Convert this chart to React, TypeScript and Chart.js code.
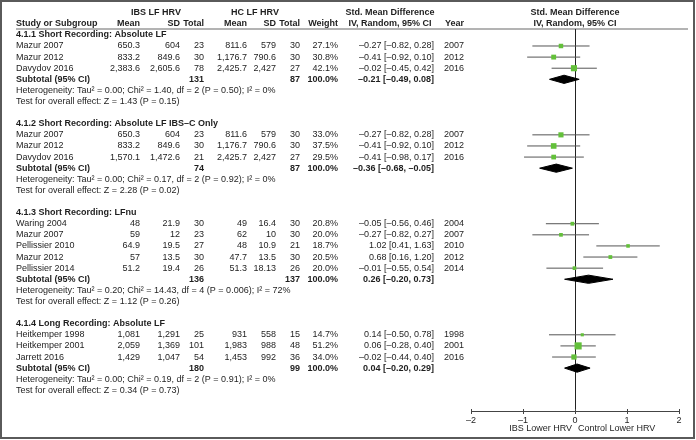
import React, { useEffect, useRef } from "react";
import { Chart, registerables } from "chart.js";

Chart.register(...registerables);

// ---------- DATA ----------
const studyNames = [
  "Mazur 2007", "Mazur 2012", "Davydov 2016",
  "Mazur 2007", "Mazur 2012", "Davydov 2016",
  "Waring 2004", "Mazur 2007", "Pellissier 2010", "Mazur 2012", "Pellissier 2014",
  "Heitkemper 1998", "Heitkemper 2001", "Jarrett 2016",
];
const studyGroup = [0, 0, 0, 1, 1, 1, 2, 2, 2, 2, 2, 3, 3, 3];
const ibsMean = [650.3, 833.2, 2383.6, 650.3, 833.2, 1570.1, 48, 59, 64.9, 57, 51.2, 1081, 2059, 1429];
const ibsSD = [604, 849.6, 2605.6, 604, 849.6, 1472.6, 21.9, 12, 19.5, 13.5, 19.4, 1291, 1369, 1047];
const ibsTotal = [23, 30, 78, 23, 30, 21, 30, 23, 27, 30, 26, 25, 101, 54];
const hcMean = [811.6, 1176.7, 2425.7, 811.6, 1176.7, 2425.7, 49, 62, 48, 47.7, 51.3, 931, 1983, 1453];
const hcSD = [579, 790.6, 2427, 579, 790.6, 2427, 16.4, 10, 10.9, 13.5, 18.13, 558, 988, 992];
const hcTotal = [30, 30, 27, 30, 30, 27, 30, 30, 21, 30, 26, 15, 48, 36];
const weights = [27.1, 30.8, 42.1, 33.0, 37.5, 29.5, 20.8, 20.0, 18.7, 20.5, 20.0, 14.7, 51.2, 34.0];
const smd = [-0.27, -0.41, -0.02, -0.27, -0.41, -0.41, -0.05, -0.27, 1.02, 0.68, -0.01, 0.14, 0.06, -0.02];
const ciLow = [-0.82, -0.92, -0.45, -0.82, -0.92, -0.98, -0.56, -0.82, 0.41, 0.16, -0.55, -0.50, -0.28, -0.44];
const ciHigh = [0.28, 0.10, 0.42, 0.28, 0.10, 0.17, 0.46, 0.27, 1.63, 1.20, 0.54, 0.78, 0.40, 0.40];
const years = [2007, 2012, 2016, 2007, 2012, 2016, 2004, 2007, 2010, 2012, 2014, 1998, 2001, 2016];

const groupTitles = [
  "4.1.1 Short Recording: Absolute LF",
  "4.1.2 Short Recording: Absolute LF IBS–C Only",
  "4.1.3 Short Recording: LFnu",
  "4.1.4 Long Recording: Absolute LF",
];
const subIbsTotal = [131, 74, 136, 180];
const subHcTotal = [87, 87, 137, 99];
const subSmd = [-0.21, -0.36, 0.26, 0.04];
const subLow = [-0.49, -0.68, -0.20, -0.20];
const subHigh = [0.08, -0.05, 0.73, 0.29];
const tau2 = [0.0, 0.0, 0.2, 0.0];
const chi2 = [1.4, 0.17, 14.43, 0.19];
const hetDf = [2, 2, 4, 2];
const hetP = ["0.50", "0.92", "0.006", "0.91"];
const i2 = [0, 0, 72, 0];
const zValue = [1.43, 2.28, 1.12, 0.34];
const zP = ["0.15", "0.02", "0.26", "0.73"];

const xTicks = [-2, -1, 0, 1, 2];
const favoursLeft = "IBS Lower HRV";
const favoursRight = "Control Lower HRV";

// ---------- ROW LAYOUT ----------
type Row = { kind: "blank" | "group" | "study" | "subtotal" | "het" | "test"; g: number; i?: number };
const rows: Row[] = [];
groupTitles.forEach((_, g) => {
  if (g > 0) rows.push({ kind: "blank", g });
  rows.push({ kind: "group", g });
  studyNames.forEach((_, i) => {
    if (studyGroup[i] === g) rows.push({ kind: "study", g, i });
  });
  rows.push({ kind: "subtotal", g });
  rows.push({ kind: "het", g });
  rows.push({ kind: "test", g });
});
const rowOfStudy = (i: number) => rows.findIndex((r) => r.kind === "study" && r.i === i);
const rowOfSubtotal = (g: number) => rows.findIndex((r) => r.kind === "subtotal" && r.g === g);

// ---------- STYLE ----------
const FONT = '"Liberation Sans", Arial, sans-serif';
const TEXT = "#1e1e1e";
const GREEN = "#63c03a";
const COL = {
  name: 16, ibsMean: 140, ibsSD: 180, ibsN: 204, hcMean: 247, hcSD: 276, hcN: 300,
  weight: 338, ci: 434, year: 464, ibsHead: 156, hcHead: 255, ciHead: 390,
};

const fmtNum = (v: number) => v.toLocaleString("en-US", { maximumFractionDigits: 2 });
const dash = (s: string) => s.replace(/-/g, "–");
const fmtCI = (e: number, l: number, h: number) =>
  dash(`${e.toFixed(2)} [${l.toFixed(2)}, ${h.toFixed(2)}]`);
const squareSide = (w: number) => 1.5 + 0.11 * w;

const forestPlugin = {
  id: "forestTable",
  beforeDraw(chart: any) {
    const { ctx, chartArea } = chart;
    ctx.save();
    ctx.fillStyle = "#fff";
    ctx.fillRect(0, 0, chart.width, chart.height);
    ctx.strokeStyle = "#5a5a5a";
    ctx.lineWidth = 2;
    ctx.strokeRect(1, 1, chart.width - 3, chart.height - 3);
    ctx.strokeStyle = "#9a9a9a";
    ctx.lineWidth = 1.5;
    ctx.beginPath();
    ctx.moveTo(COL.name, chartArea.top);
    ctx.lineTo(chart.width - 8, chartArea.top);
    ctx.stroke();
    ctx.restore();
  },
  afterDraw(chart: any) {
    const { ctx, chartArea } = chart;
    const x = chart.scales.x;
    const y = chart.scales.y;
    ctx.save();
    ctx.fillStyle = TEXT;
    ctx.textBaseline = "middle";
    const txt = (s: string, px: number, py: number, align: CanvasTextAlign, bold = false) => {
      ctx.font = `${bold ? "bold " : ""}9px ${FONT}`;
      ctx.textAlign = align;
      ctx.fillText(s, px, py);
    };

    // headers
    const h1 = y.getPixelForValue(-2);
    const h2 = y.getPixelForValue(-1);
    const x0 = x.getPixelForValue(0);
    txt("IBS LF HRV", COL.ibsHead, h1, "center", true);
    txt("HC LF HRV", COL.hcHead, h1, "center", true);
    txt("Std. Mean Difference", COL.ciHead, h1, "center", true);
    txt("Std. Mean Difference", x0, h1, "center", true);
    txt("Study or Subgroup", COL.name, h2, "left", true);
    txt("Mean", COL.ibsMean, h2, "right", true);
    txt("SD", COL.ibsSD, h2, "right", true);
    txt("Total", COL.ibsN, h2, "right", true);
    txt("Mean", COL.hcMean, h2, "right", true);
    txt("SD", COL.hcSD, h2, "right", true);
    txt("Total", COL.hcN, h2, "right", true);
    txt("Weight", COL.weight, h2, "right", true);
    txt("IV, Random, 95% CI", COL.ciHead, h2, "center", true);
    txt("Year", COL.year, h2, "right", true);
    txt("IV, Random, 95% CI", x0, h2, "center", true);

    rows.forEach((r, idx) => {
      const py = y.getPixelForValue(idx);
      const g = r.g;
      if (r.kind === "group") {
        txt(groupTitles[g], COL.name, py, "left", true);
      } else if (r.kind === "study") {
        const i = r.i as number;
        txt(studyNames[i], COL.name, py, "left");
        txt(fmtNum(ibsMean[i]), COL.ibsMean, py, "right");
        txt(fmtNum(ibsSD[i]), COL.ibsSD, py, "right");
        txt(String(ibsTotal[i]), COL.ibsN, py, "right");
        txt(fmtNum(hcMean[i]), COL.hcMean, py, "right");
        txt(fmtNum(hcSD[i]), COL.hcSD, py, "right");
        txt(String(hcTotal[i]), COL.hcN, py, "right");
        txt(weights[i].toFixed(1) + "%", COL.weight, py, "right");
        txt(fmtCI(smd[i], ciLow[i], ciHigh[i]), COL.ci, py, "right");
        txt(String(years[i]), COL.year, py, "right");
      } else if (r.kind === "subtotal") {
        txt("Subtotal (95% CI)", COL.name, py, "left", true);
        txt(String(subIbsTotal[g]), COL.ibsN, py, "right", true);
        txt(String(subHcTotal[g]), COL.hcN, py, "right", true);
        txt("100.0%", COL.weight, py, "right", true);
        txt(fmtCI(subSmd[g], subLow[g], subHigh[g]), COL.ci, py, "right", true);
      } else if (r.kind === "het") {
        txt(
          `Heterogeneity: Tau² = ${tau2[g].toFixed(2)}; Chi² = ${chi2[g].toFixed(2)}, df = ${hetDf[g]} (P = ${hetP[g]}); I² = ${i2[g]}%`,
          COL.name, py, "left"
        );
      } else if (r.kind === "test") {
        txt(`Test for overall effect: Z = ${zValue[g].toFixed(2)} (P = ${zP[g]})`, COL.name, py, "left");
      }
    });

    // small upward tick marks
    ctx.strokeStyle = "#444";
    ctx.lineWidth = 1;
    xTicks.forEach((v) => {
      const px = Math.round(x.getPixelForValue(v)) + 0.5;
      ctx.beginPath();
      ctx.moveTo(px, chartArea.bottom - 2);
      ctx.lineTo(px, chartArea.bottom);
      ctx.stroke();
    });

    // favours labels
    const cy = chartArea.bottom + 17.5;
    txt(favoursLeft, x0 - 3, cy, "right");
    txt(favoursRight, x0 + 3, cy, "left");
    ctx.restore();
  },
};

export default function App() {
  const ref = useRef<HTMLCanvasElement | null>(null);
  useEffect(() => {
    if (!ref.current) return;
    const ciSets = studyNames.map((_, i) => ({
      type: "line" as const,
      data: [
        { x: ciLow[i], y: rowOfStudy(i) },
        { x: ciHigh[i], y: rowOfStudy(i) },
      ],
      borderColor: "#555",
      borderWidth: 1,
      pointRadius: 0,
      fill: false,
      order: 3,
    }));
    const diamondSets = groupTitles.map((_, g) => {
      const r = rowOfSubtotal(g);
      const hh = 0.37;
      return {
        type: "line" as const,
        data: [
          { x: subLow[g], y: r },
          { x: subSmd[g], y: r - hh },
          { x: subHigh[g], y: r },
          { x: subSmd[g], y: r + hh },
          { x: subLow[g], y: r },
        ],
        borderColor: "#000",
        backgroundColor: "#000",
        borderWidth: 1,
        pointRadius: 0,
        fill: "shape",
        tension: 0,
        order: 2,
      };
    });
    const squareSet = {
      type: "scatter" as const,
      data: studyNames.map((_, i) => ({ x: smd[i], y: rowOfStudy(i) })),
      pointStyle: "rect",
      pointRadius: weights.map((w) => squareSide(w) / Math.SQRT2),
      backgroundColor: GREEN,
      borderColor: GREEN,
      borderWidth: 0,
      order: 1,
    };

    const chart = new Chart(ref.current, {
      type: "scatter",
      data: { datasets: [squareSet, ...diamondSets, ...ciSets] as any },
      options: {
        animation: false,
        responsive: false,
        events: [],
        layout: { padding: { left: 471, right: 17, top: 29, bottom: 9 } },
        plugins: { legend: { display: false }, tooltip: { enabled: false } },
        scales: {
          x: {
            type: "linear",
            position: "bottom",
            min: -2,
            max: 2,
            afterFit: (s: any) => {
              s.height = 20;
            },
            afterBuildTicks: (s: any) => {
              s.ticks = xTicks.map((v) => ({ value: v }));
            },
            ticks: {
              font: { size: 9, family: FONT },
              color: TEXT,
              padding: 1,
              maxRotation: 0,
              callback: (v: any) => dash(String(v)),
            },
            grid: {
              drawOnChartArea: true,
              color: (c: any) => (c.tick && c.tick.value === 0 ? "#222" : "rgba(0,0,0,0)"),
              tickColor: "#444",
              tickLength: 3,
              lineWidth: 1,
            },
            border: { display: true, color: "#444", width: 1 },
          },
          y: {
            type: "linear",
            display: false,
            reverse: true,
            min: -0.53,
            max: rows.length + 0.86,
          },
        },
      },
      plugins: [forestPlugin],
    });
    return () => chart.destroy();
  }, []);

  return (
    <div style={{ position: "fixed", left: 0, top: 0, width: 696, height: 440, background: "#fff" }}>
      <canvas ref={ref} width={696} height={440} style={{ display: "block" }} />
    </div>
  );
}
